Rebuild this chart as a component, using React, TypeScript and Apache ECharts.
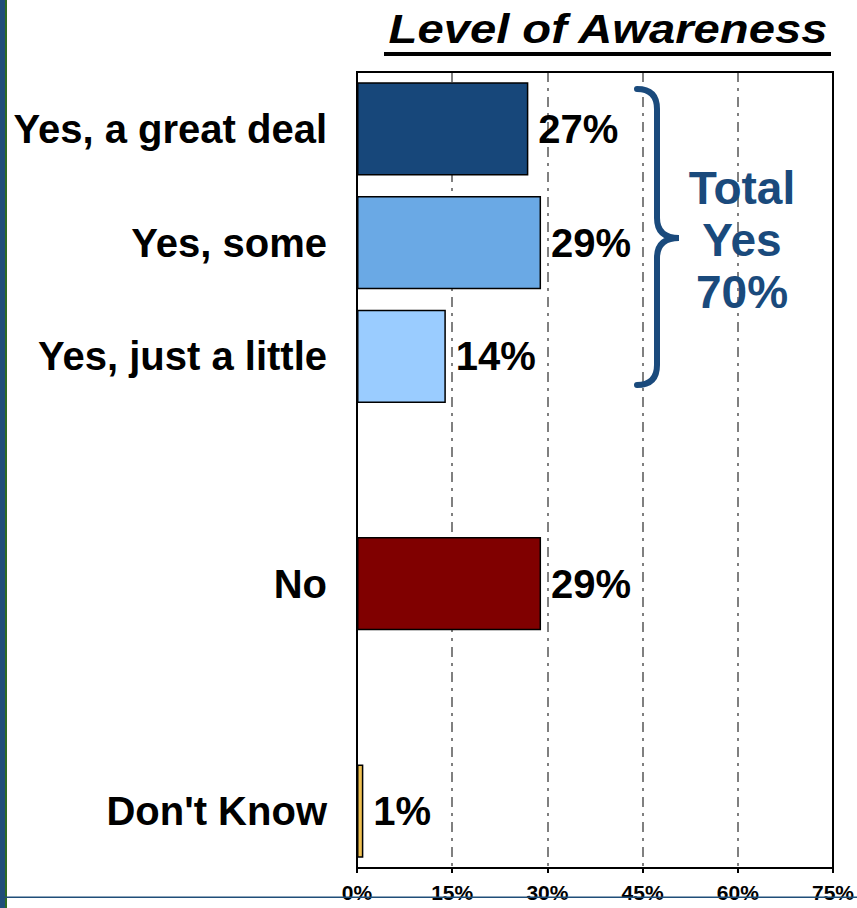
import React, { useEffect, useRef } from "react";
import * as echarts from "echarts";

const categories = ["Yes, a great deal", "Yes, some", "Yes, just a little", " ", "No", "  ", "Don't Know"];
const values: (number | string)[] = [27, 29, 14, "-", 29, "-", 1];
const barColors = ["#17477A", "#6AA9E5", "#9ACCFF", "#FFFFFF", "#800000", "#FFFFFF", "#EFC052"];
const xTicks = { min: 0, max: 75, interval: 15 };
const titleText = "Level of Awareness";
const totalText = "Total\nYes\n70%";

const FONT = "'Liberation Sans', Arial, Helvetica, sans-serif";

export default function App() {
  const ref = useRef<HTMLDivElement>(null);
  useEffect(() => {
    if (!ref.current) return;
    echarts.graphic.registerShape(
      "brace",
      echarts.graphic.extendPath(
        "M 637 89 Q 657 89 657 109 L 657 218 Q 657 238 679 238 Q 657 238 657 258 L 657 365 Q 657 385 637 385",
        {}
      )
    );
    const chart = echarts.init(ref.current, null, { renderer: "svg" });
    chart.setOption({
      animation: false,
      backgroundColor: "#FFFFFF",
      grid: {
        left: 357,
        right: 24,
        top: 72,
        bottom: 40,
        show: false,
      },
      xAxis: {
        type: "value",
        min: xTicks.min,
        max: xTicks.max,
        interval: xTicks.interval,
        axisLine: { show: true, lineStyle: { color: "#000000", width: 2 } },
        axisTick: { show: true, length: 5, lineStyle: { color: "#000000", width: 2 } },
        axisLabel: {
          formatter: "{value}%",
          fontFamily: FONT,
          fontWeight: "bold",
          fontSize: 21,
          color: "#000000",
          margin: 14,
        },
        splitLine: {
          show: true,
          lineStyle: { color: "#808080", width: 2, type: [10, 6, 3, 6] },
        },
      },
      yAxis: {
        type: "category",
        inverse: true,
        data: categories,
        axisLine: { show: true, lineStyle: { color: "#000000", width: 2 } },
        axisTick: { show: false },
        axisLabel: {
          fontFamily: FONT,
          fontWeight: "bold",
          fontSize: 40,
          color: "#000000",
          margin: 30,
        },
      },
      series: [
        {
          type: "bar",
          data: values.map((v, i) => ({
            value: v,
            itemStyle: { color: barColors[i] },
          })),
          barCategoryGap: "18%",
          itemStyle: { borderColor: "#000000", borderWidth: 1.5 },
          label: {
            show: true,
            position: "right",
            distance: 10,
            formatter: "{c}%",
            fontFamily: FONT,
            fontWeight: "bold",
            fontSize: 40,
            color: "#000000",
          },
        },
      ],
      graphic: [
        { type: "rect", shape: { x: 0, y: 0, width: 5, height: 908 }, style: { fill: "#1F4E79" }, z: 100 },
        { type: "rect", shape: { x: 5, y: 0, width: 2, height: 908 }, style: { fill: "#2D6B22" }, z: 100 },
        { type: "rect", shape: { x: 0, y: 896.5, width: 857, height: 1.5 }, style: { fill: "#1F4E79" }, z: 100 },
        {
          type: "rect",
          shape: { x: 357, y: 72, width: 476, height: 796 },
          style: { fill: null, stroke: "#000000", lineWidth: 2 },
          z: 40,
        },
        {
          type: "group",
          x: 608,
          y: 29,
          scaleX: 1.18,
          children: [
            {
              type: "text",
              x: 0,
              y: 0,
              style: {
                text: titleText,
                fontFamily: FONT,
                fontWeight: "bold",
                fontStyle: "italic",
                fontSize: 40,
                fill: "#000000",
                align: "center",
                verticalAlign: "middle",
              },
            },
          ],
        },
        { type: "rect", shape: { x: 384, y: 52, width: 447, height: 4 }, style: { fill: "#000000" } },
        {
          type: "brace",
          x: 0,
          y: 0,
          style: { stroke: "#1A4A7C", lineWidth: 6, fill: null, lineCap: "round" },
          z: 50,
        },
        {
          type: "text",
          x: 742,
          y: 240,
          z: 50,
          style: {
            text: totalText,
            fontFamily: FONT,
            fontWeight: "bold",
            fontSize: 46,
            lineHeight: 52,
            fill: "#1A4A7C",
            align: "center",
            verticalAlign: "middle",
          },
        },
      ],
    });
    return () => chart.dispose();
  }, []);
  return (
    <div
      ref={ref}
      style={{ position: "absolute", left: 0, top: 0, width: 857, height: 908 }}
    />
  );
}
